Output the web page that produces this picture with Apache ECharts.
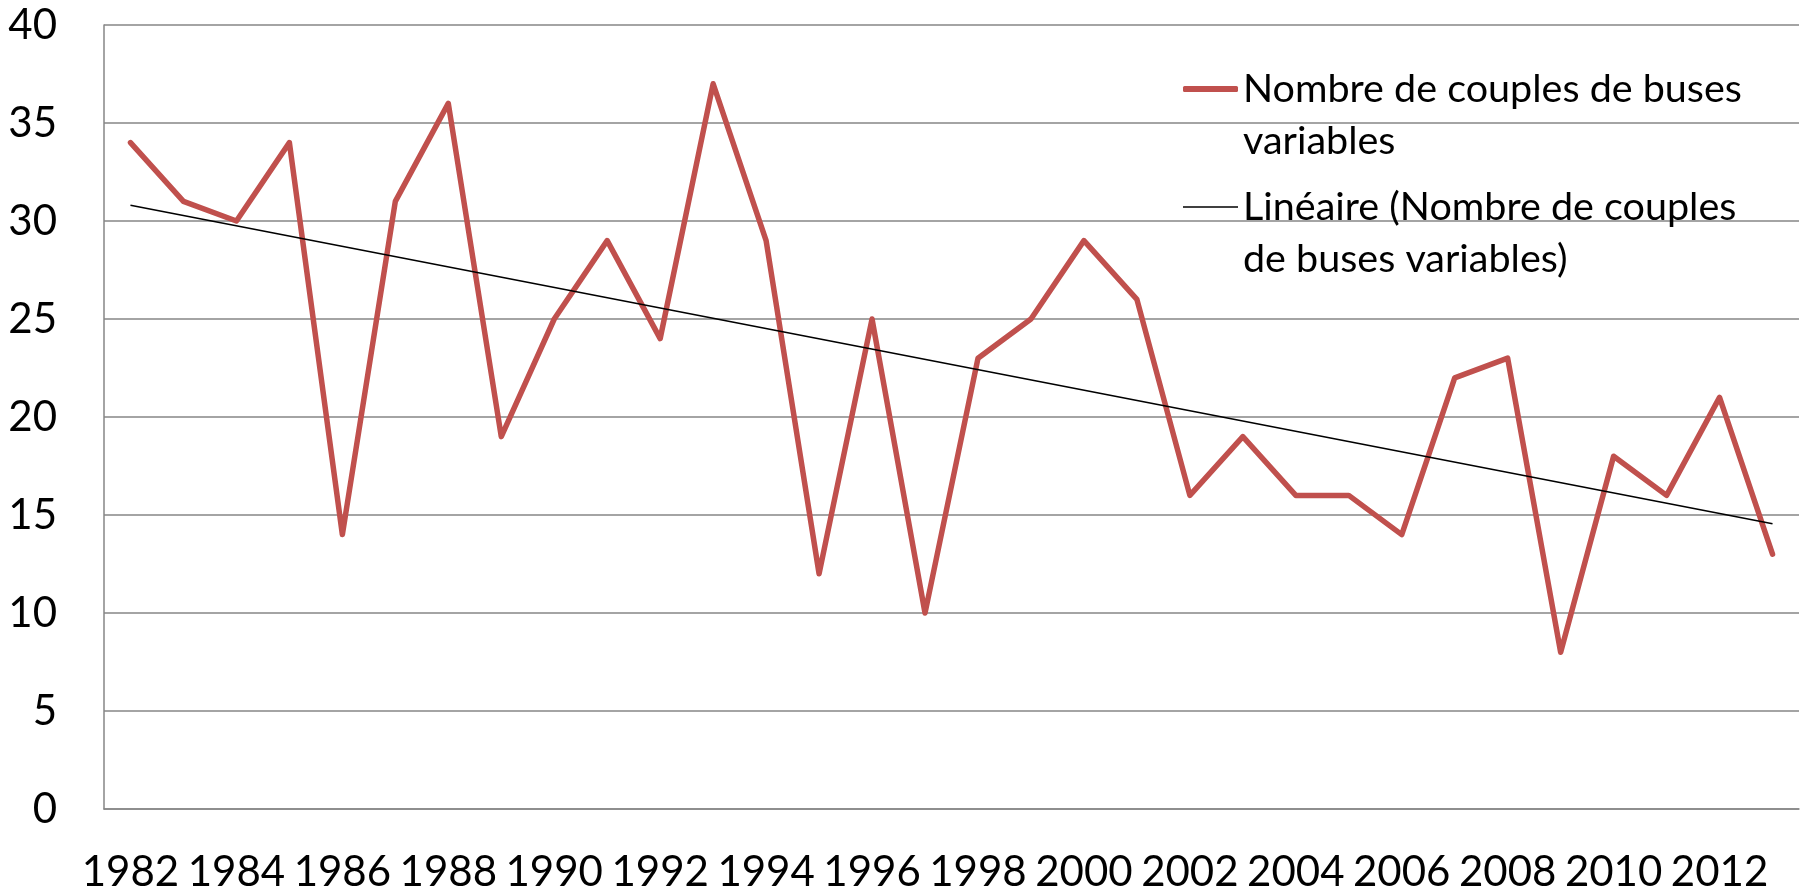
<!DOCTYPE html>
<html><head><meta charset="utf-8">
<script src="https://cdn.jsdelivr.net/npm/echarts@6/dist/echarts.min.js"></script>
<style>html,body{margin:0;padding:0;background:#fff}#c{width:1810px;height:890px}</style>
</head><body><div id="c"></div>
<script>
const years = ['1982','1983','1984','1985','1986','1987','1988','1989','1990','1991','1992','1993','1994','1995','1996','1997','1998','1999','2000','2001','2002','2003','2004','2005','2006','2007','2008','2009','2010','2011','2012','2013'];
const couples = [34,31,30,34,14,31,36,19,25,29,24,37,29,12,25,10,23,25,29,26,16,19,16,16,14,22,23,8,18,16,21,13];
const trendStart = 30.8;
const trendEnd = 14.55;
const seriesNames = ['Nombre de couples de buses variables', 'Linéaire (Nombre de couples de buses variables)'];
const legendLabels = ['Nombre de couples de buses\nvariables', 'Linéaire (Nombre de couples\nde buses variables)'];

const trend = years.map((y, i) => i === 0 ? trendStart : (i === years.length - 1 ? trendEnd : null));
const FONT = 'Lato';
const chart = echarts.init(document.getElementById('c'));
const legendText = {fontFamily: FONT, fontSize: 39.5, color: '#000', lineHeight: 52};
chart.setOption({
  animation: false,
  grid: {left: 104, right: 11, top: 25, bottom: 81, containLabel: false, outerBoundsMode: 'none'},
  legend: [
    {data: [seriesNames[0]], left: 1178, top: 6, icon: 'roundRect', itemWidth: 55, itemHeight: 6, itemGap: 0,
     formatter: () => '\n' + legendLabels[0], textStyle: legendText},
    {data: [seriesNames[1]], left: 1178, top: 124, icon: 'rect', itemWidth: 55, itemHeight: 1.6, itemGap: 0,
     formatter: () => '\n' + legendLabels[1], textStyle: legendText}
  ],
  xAxis: {
    type: 'category', data: years, boundaryGap: true,
    axisLine: {lineStyle: {color: '#868686', width: 1.5}},
    axisTick: {show: false},
    axisLabel: {interval: 1, fontFamily: FONT, fontSize: 42, color: '#000', margin: 42}
  },
  yAxis: {
    type: 'value', min: 0, max: 40, interval: 5,
    axisLine: {show: true, lineStyle: {color: '#868686', width: 1.5}},
    axisTick: {show: false},
    splitLine: {lineStyle: {color: '#868686', width: 1.5}},
    axisLabel: {fontFamily: FONT, fontSize: 42, color: '#000', margin: 47}
  },
  series: [
    {name: seriesNames[0], type: 'line', data: couples, symbol: 'none',
     lineStyle: {color: '#C0504D', width: 5.5, join: 'round', cap: 'round'}, itemStyle: {color: '#C0504D'}},
    {name: seriesNames[1], type: 'line', data: trend, connectNulls: true, symbol: 'none',
     lineStyle: {color: '#000', width: 1.6}, itemStyle: {color: '#000'}}
  ]
});
</script></body></html>
